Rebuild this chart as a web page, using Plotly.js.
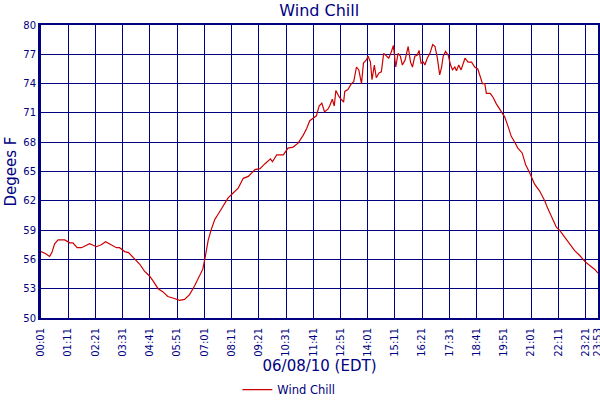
<!DOCTYPE html>
<html>
<head>
<meta charset="utf-8">
<script src="https://cdn.plot.ly/plotly-3.0.1.min.js"></script>
<style>
  body { margin: 0; background: #fff; }
  #chart { width: 600px; height: 400px; }
</style>
</head>
<body>
<div id="chart"></div>
<script>
// minutes after midnight, 06/08/10
const minutes = [1, 12, 23, 29, 36, 45, 62, 75, 83, 94, 105, 126, 143, 156, 167, 182, 195, 203, 216, 226,
  242, 255, 267, 280, 289, 302, 314, 327, 344, 357, 370, 383, 396, 409, 417, 423, 431, 439, 448, 456,
  469, 482, 495, 508, 521, 534, 551, 564, 577, 591, 596, 607, 624, 636, 649, 662, 675, 684, 692, 701,
  709, 716, 723, 730, 739, 743, 750, 755, 759, 768, 779, 782, 790, 799, 805, 812, 818, 825, 830, 837,
  842, 848, 852, 858, 863, 870, 876, 882, 889, 895, 902, 907, 913, 919, 925, 930, 937, 945, 951, 956,
  962, 968, 973, 978, 984, 988, 994, 1001, 1008, 1014, 1020, 1026, 1031, 1035, 1041, 1048, 1054, 1059, 1065, 1069,
  1075, 1081, 1091, 1099, 1108, 1116, 1124, 1130, 1136, 1142, 1146, 1156, 1163, 1172, 1185, 1193, 1202, 1210, 1219, 1227,
  1238, 1247, 1257, 1270, 1283, 1296, 1304, 1315, 1326, 1334, 1347, 1360, 1373, 1386, 1399, 1411, 1424, 1433];
const windChill = [56.8, 56.6, 56.3, 56.7, 57.6, 58.0, 58.0, 57.7, 57.7, 57.2, 57.2, 57.6, 57.3, 57.5, 57.8, 57.5, 57.2, 57.2, 56.8, 56.7,
  56.0, 55.5, 54.8, 54.3, 53.8, 53.0, 52.7, 52.2, 52.0, 51.8, 51.9, 52.4, 53.3, 54.3, 55.0, 56.2, 58.0, 59.1, 60.1, 60.6,
  61.5, 62.3, 62.8, 63.3, 64.3, 64.5, 65.2, 65.3, 65.8, 66.3, 66.0, 66.7, 66.7, 67.4, 67.5, 67.9, 68.7, 69.4, 70.2, 70.5,
  70.7, 71.7, 72.0, 71.1, 71.4, 71.7, 72.4, 71.7, 73.3, 72.6, 72.1, 73.2, 73.4, 74.0, 74.2, 75.7, 75.4, 74.0, 76.1, 76.4,
  76.8, 76.2, 74.4, 75.9, 74.6, 75.1, 75.2, 77.1, 76.8, 76.6, 77.3, 77.9, 75.7, 77.1, 76.8, 75.9, 76.4, 77.8, 76.2, 75.7,
  76.8, 76.9, 77.4, 76.1, 76.2, 75.9, 76.6, 77.1, 78.0, 77.8, 76.6, 74.9, 75.7, 76.8, 77.3, 76.9, 75.9, 75.4, 75.7, 75.3,
  75.9, 75.4, 76.6, 76.2, 76.2, 75.7, 75.5, 74.7, 74.0, 74.0, 73.0, 73.0, 72.6, 71.9, 71.1, 70.6, 69.6, 68.6, 68.0, 67.4,
  66.9, 65.7, 64.9, 63.7, 63.0, 62.0, 61.2, 60.3, 59.3, 59.0, 58.3, 57.6, 56.9, 56.4, 55.8, 55.4, 55.0, 54.6];

const tickMinutes = [1, 71, 141, 211, 281, 351, 421, 491, 561, 631, 701, 771, 841, 911, 981, 1051, 1121, 1191, 1261, 1331, 1401, 1433];
const tickLabels = ['00:01', '01:11', '02:21', '03:31', '04:41', '05:51', '07:01', '08:11', '09:21', '10:31', '11:41',
  '12:51', '14:01', '15:11', '16:21', '17:31', '18:41', '19:51', '21:01', '22:11', '23:21', '23:53'];

const navy = '#000080';
const fontFam = 'DejaVu Sans, Verdana, sans-serif';

const trace = {
    x: minutes,
    y: windChill,
    mode: 'lines',
    name: 'Wind Chill',
    line: {color: '#cc0000', width: 1.2},
    hoverinfo: 'y'
};

const layout = {
    width: 600,
    height: 400,
    margin: {l: 41, r: 2, t: 25, b: 82},
    paper_bgcolor: '#fff',
    plot_bgcolor: '#fff',
    font: {family: fontFam, color: navy, size: 10},
    title: {text: 'Wind Chill', font: {size: 16, color: navy}, x: 0.532, xanchor: 'center', y: 0.975, yanchor: 'middle'},
    xaxis: {
        range: [1, 1433],
        tickvals: tickMinutes,
        ticktext: tickLabels,
        tickangle: -90,
        ticklabeloverflow: 'allow',
        ticklabelstandoff: 4,
        automargin: false,
        showgrid: true,
        gridcolor: navy,
        gridwidth: 1.3,
        showline: true,
        linecolor: navy,
        linewidth: 2,
        mirror: true,
        zeroline: false,
        ticks: '',
        tickfont: {size: 10, color: navy},
        title: {text: '06/08/10 (EDT)', font: {size: 15, color: navy}, standoff: 12}
    },
    yaxis: {
        range: [50, 80],
        tick0: 50,
        dtick: 3,
        automargin: false,
        showgrid: true,
        gridcolor: navy,
        gridwidth: 1.3,
        showline: true,
        linecolor: navy,
        linewidth: 3,
        mirror: true,
        zeroline: false,
        ticks: '',
        tickfont: {size: 10, color: navy},
        title: {text: 'Degees F', font: {size: 15, color: navy}, standoff: 4}
    },
    showlegend: true,
    legend: {
        orientation: 'h',
        x: 0.445,
        xanchor: 'center',
        yref: 'container',
        y: 0.026,
        yanchor: 'middle',
        font: {size: 11.5, color: navy},
        bgcolor: 'rgba(0,0,0,0)'
    }
};

const config = {displayModeBar: false, responsive: false};
Plotly.newPlot('chart', [trace], layout, config);
</script>
</body>
</html>
